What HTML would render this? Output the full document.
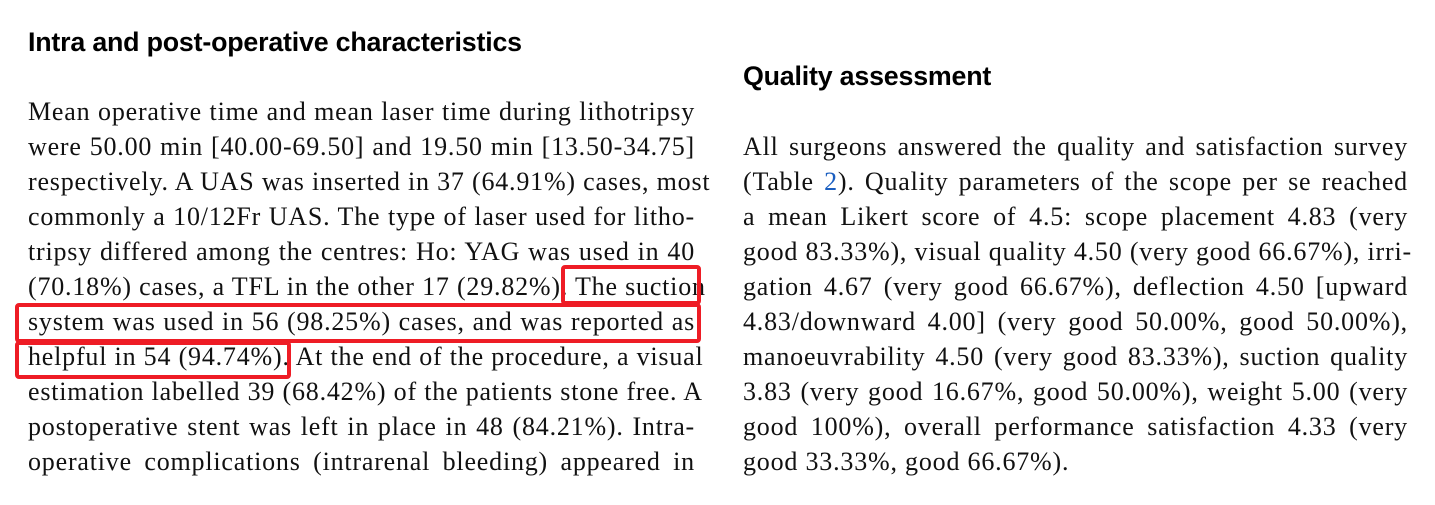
<!DOCTYPE html>
<html><head><meta charset="utf-8"><style>
body{margin:0;width:1435px;height:505px;background:#fff;position:relative;overflow:hidden;font-family:"Liberation Serif",serif;color:#111}
h2{position:absolute;margin:0;font:bold 26.8px/30px "Liberation Sans",sans-serif;color:#000;letter-spacing:-0.2px}
.col{position:absolute;font-size:26px;line-height:35px;letter-spacing:0.8px}
.l{text-align:justify;text-align-last:justify;white-space:nowrap}
.last{text-align:left;text-align-last:left}
.box{position:absolute;border:4px solid #ee1c25;border-radius:4px;box-sizing:border-box}
a{color:#1a5ec0;text-decoration:none}
</style></head><body>
<h2 style="left:28px;top:27px">Intra and post-operative characteristics</h2>
<h2 style="left:743px;top:61px">Quality assessment</h2>
<div class="col" style="left:28px;top:94px;width:667px">
<div class="l">Mean operative time and mean laser time during lithotripsy</div>
<div class="l">were 50.00 min [40.00-69.50] and 19.50 min [13.50-34.75]</div>
<div class="l">respectively. A UAS was inserted in 37 (64.91%) cases, most</div>
<div class="l">commonly a 10/12Fr UAS. The type of laser used for litho-</div>
<div class="l">tripsy differed among the centres: Ho: YAG was used in 40</div>
<div class="l">(70.18%) cases, a TFL in the other 17 (29.82%). The suction</div>
<div class="l">system was used in 56 (98.25%) cases, and was reported as</div>
<div class="l">helpful in 54 (94.74%). At the end of the procedure, a visual</div>
<div class="l">estimation labelled 39 (68.42%) of the patients stone free. A</div>
<div class="l">postoperative stent was left in place in 48 (84.21%). Intra-</div>
<div class="l">operative complications (intrarenal bleeding) appeared in</div>
</div>
<div class="col" style="left:743px;top:129px;width:665px">
<div class="l">All surgeons answered the quality and satisfaction survey</div>
<div class="l">(Table <a>2</a>). Quality parameters of the scope per se reached</div>
<div class="l">a mean Likert score of 4.5: scope placement 4.83 (very</div>
<div class="l">good 83.33%), visual quality 4.50 (very good 66.67%), irri-</div>
<div class="l">gation 4.67 (very good 66.67%), deflection 4.50 [upward</div>
<div class="l">4.83/downward 4.00] (very good 50.00%, good 50.00%),</div>
<div class="l">manoeuvrability 4.50 (very good 83.33%), suction quality</div>
<div class="l">3.83 (very good 16.67%, good 50.00%), weight 5.00 (very</div>
<div class="l">good 100%), overall performance satisfaction 4.33 (very</div>
<div class="l last">good 33.33%, good 66.67%).</div>
</div>
<div class="box" style="left:561px;top:265px;width:140px;height:40px"></div>
<div class="box" style="left:15px;top:303px;width:686px;height:40px"></div>
<div class="box" style="left:15px;top:341px;width:276px;height:38px"></div>
</body></html>
